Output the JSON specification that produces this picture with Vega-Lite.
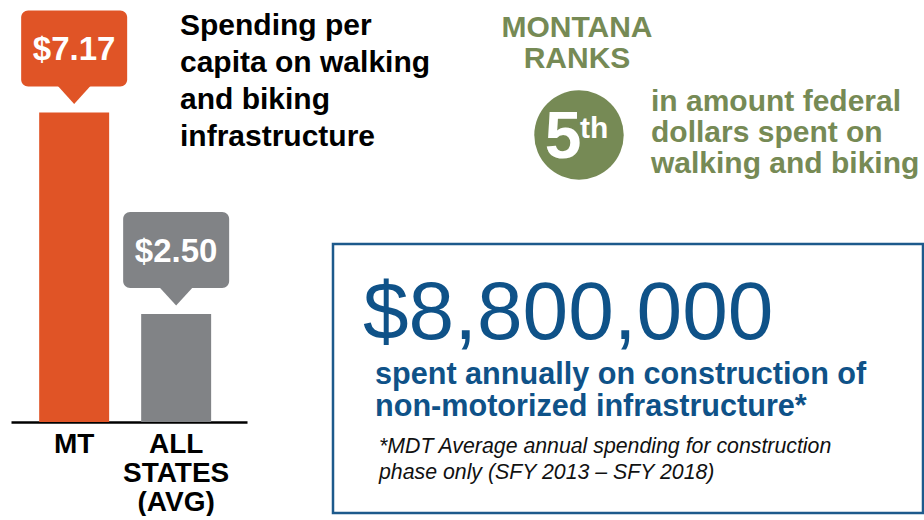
{
  "$schema": "https://vega.github.io/schema/vega-lite/v6.json",
  "width": 924,
  "height": 421,
  "padding": 0,
  "background": "white",
  "config": {"view": {"stroke": null}, "font": "Liberation Sans"},
  "datasets": {
    "spending": [
      {"state": "MT", "per_capita": 7.17},
      {"state": "ALL STATES (AVG)", "per_capita": 2.50}
    ]
  },
  "layer": [
    {
      "data": {"name": "spending"},
      "mark": {"type": "bar"},
      "encoding": {
        "x": {
          "field": "state", "type": "nominal", "sort": null,
          "scale": {"range": [10, 246], "paddingInner": 0.314, "paddingOuter": 0.314, "align": 0.44},
          "axis": {
            "title": null, "ticks": false, "domainColor": "#000000", "domainWidth": 2.5,
            "labelExpr": "split(datum.label, ' ')", "labelAngle": 0,
            "labelFont": "Liberation Sans", "labelFontWeight": "bold", "labelFontSize": 28,
            "labelColor": "#000000", "labelLineHeight": 29, "labelPadding": 8, "labelOverlap": false
          }
        },
        "y": {"field": "per_capita", "type": "quantitative", "scale": {"domain": [0, 9.75], "nice": false}, "axis": null},
        "color": {"field": "state", "type": "nominal", "scale": {"domain": ["MT", "ALL STATES (AVG)"], "range": ["#e05426", "#818386"]}, "legend": null}
      }
    },
    {
      "data": {"name": "spending"},
      "mark": {"type": "bar", "yOffset": -102, "y2Offset": -26, "width": 106, "cornerRadius": 7},
      "encoding": {
        "x": {"field": "state", "type": "nominal", "sort": null},
        "y": {"field": "per_capita", "type": "quantitative"},
        "y2": {"field": "per_capita"},
        "color": {"field": "state", "type": "nominal", "legend": null}
      }
    },
    {
      "data": {"name": "spending"},
      "mark": {"type": "point", "shape": "M-1,-0.1L1,-0.1L0,1Z", "size": 1089, "filled": true, "opacity": 1, "yOffset": -25},
      "encoding": {
        "x": {"field": "state", "type": "nominal", "sort": null},
        "y": {"field": "per_capita", "type": "quantitative"},
        "color": {"field": "state", "type": "nominal", "legend": null}
      }
    },
    {
      "data": {"name": "spending"},
      "mark": {"type": "text", "yOffset": -52, "baseline": "alphabetic", "align": "center", "font": "Liberation Sans", "fontSize": 33, "fontWeight": "bold", "color": "#ffffff"},
      "encoding": {
        "x": {"field": "state", "type": "nominal", "sort": null},
        "y": {"field": "per_capita", "type": "quantitative"},
        "text": {"field": "per_capita", "type": "quantitative", "format": "$.2f"}
      }
    },
    {
      "data": {"values": [{}]},
      "mark": {"type": "text", "x": 179, "y": 34, "align": "left", "baseline": "alphabetic", "lineHeight": 37, "font": "Liberation Sans", "fontSize": 30, "fontWeight": "bold", "color": "#000000",
        "text": ["Spending per", "capita on walking", "and biking", "infrastructure"]},
      "encoding": {}
    },
    {
      "data": {"values": [{}]},
      "mark": {"type": "rule", "x": 467, "y": 10, "y2": 185, "stroke": "#8a8c8f", "strokeWidth": 2.5},
      "encoding": {}
    },
    {
      "data": {"values": [{}]},
      "mark": {"type": "text", "x": 576, "y": 36, "align": "center", "baseline": "alphabetic", "lineHeight": 31, "font": "Liberation Sans", "fontSize": 30, "fontWeight": "bold", "color": "#768a55",
        "text": ["MONTANA", "RANKS"]},
      "encoding": {}
    },
    {
      "data": {"values": [{"rank": 5}]},
      "mark": {"type": "point", "x": 578, "y": 134, "size": 8000, "filled": true, "opacity": 1, "color": "#768a55"},
      "encoding": {}
    },
    {
      "data": {"values": [{"rank": 5}]},
      "mark": {"type": "text", "x": 562, "y": 157, "align": "center", "baseline": "alphabetic", "font": "Liberation Sans", "fontSize": 66, "fontWeight": "bold", "color": "#ffffff"},
      "encoding": {"text": {"field": "rank", "type": "quantitative"}}
    },
    {
      "data": {"values": [{}]},
      "mark": {"type": "text", "x": 579, "y": 137, "align": "left", "baseline": "alphabetic", "font": "Liberation Sans", "fontSize": 30, "fontWeight": "bold", "color": "#ffffff", "text": "th"},
      "encoding": {}
    },
    {
      "data": {"values": [{}]},
      "mark": {"type": "text", "x": 650, "y": 110, "align": "left", "baseline": "alphabetic", "lineHeight": 31, "font": "Liberation Sans", "fontSize": 30, "fontWeight": "bold", "color": "#768a55",
        "text": ["in amount federal", "dollars spent on", "walking and biking"]},
      "encoding": {}
    },
    {
      "data": {"values": [{}]},
      "mark": {"type": "rect", "x": 332, "y": 243, "x2": 922, "y2": 512, "fill": "transparent", "stroke": "#1d5a8c", "strokeWidth": 2.5},
      "encoding": {}
    },
    {
      "data": {"values": [{"amount": 8800000}]},
      "mark": {"type": "text", "x": 362, "y": 338, "align": "left", "baseline": "alphabetic", "font": "Liberation Sans", "fontSize": 82, "color": "#0f5288"},
      "encoding": {"text": {"field": "amount", "type": "quantitative", "format": "$,.0f"}}
    },
    {
      "data": {"values": [{}]},
      "mark": {"type": "text", "x": 374, "y": 383, "align": "left", "baseline": "alphabetic", "lineHeight": 32, "font": "Liberation Sans", "fontSize": 30.6, "fontWeight": "bold", "color": "#0f5288",
        "text": ["spent annually on construction of", "non-motorized infrastructure*"]},
      "encoding": {}
    },
    {
      "data": {"values": [{}]},
      "mark": {"type": "text", "x": 378, "y": 452, "align": "left", "baseline": "alphabetic", "lineHeight": 26, "font": "Liberation Sans", "fontSize": 21.3, "fontStyle": "italic", "color": "#111111",
        "text": ["*MDT Average annual spending for construction", "phase only (SFY 2013 \u2013 SFY 2018)"]},
      "encoding": {}
    }
  ]
}
